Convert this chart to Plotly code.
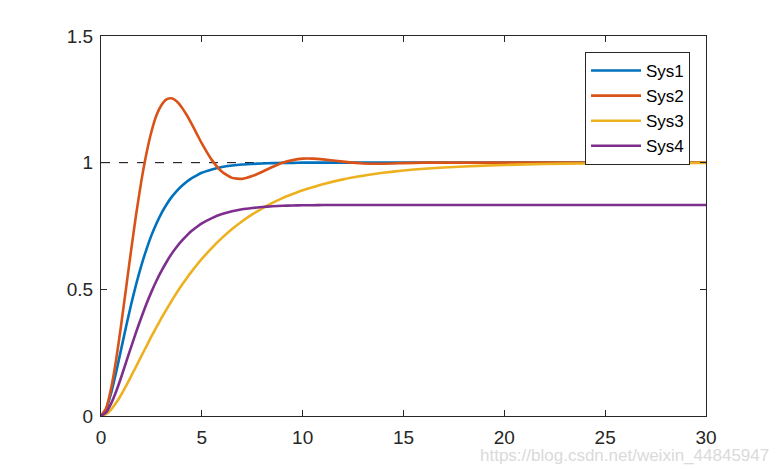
import plotly.graph_objects as go

t = [0, 0.25, 0.5, 0.75, 1, 1.25, 1.5, 1.75, 2, 2.25, 2.5, 2.75, 3, 3.25, 3.5, 3.75, 4, 4.25, 4.5, 4.75,
     5, 5.5, 6, 6.5, 7, 7.5, 8, 8.5, 9, 9.5, 10,
     10.5, 11, 12, 13, 14, 15, 16, 18, 20, 22, 24, 26, 28, 30]

sys1 = [0, 0.026, 0.090, 0.173, 0.264, 0.355, 0.442, 0.522, 0.594, 0.657, 0.713, 0.760, 0.801, 0.835,
        0.864, 0.888, 0.908, 0.925, 0.939, 0.950,
        0.960, 0.973, 0.983, 0.989, 0.993, 0.995, 0.997, 0.998, 0.999, 0.999, 1.0,
        1.0, 1.0, 1.0, 1.0, 1.0, 1.0, 1.0, 1.0, 1.0, 1.0, 1.0, 1.0, 1.0, 1.0]

sys2 = [0, 0.029, 0.108, 0.222, 0.360, 0.509, 0.658, 0.800, 0.927, 1.035, 1.122, 1.187, 1.228, 1.250,
        1.254, 1.242, 1.219, 1.188, 1.152, 1.114,
        1.076, 1.010, 0.964, 0.940, 0.936, 0.947, 0.964, 0.983, 0.9995, 1.010, 1.016,
        1.016, 1.013, 1.004, 0.997, 0.996, 0.998, 1.0, 1.0, 1.0, 1.0, 1.0, 1.0, 1.0, 1.0]

sys3 = [0, 0.007, 0.0255, 0.052, 0.084, 0.120, 0.158, 0.197, 0.236, 0.275, 0.314, 0.351, 0.387, 0.421,
        0.454, 0.486, 0.516, 0.544, 0.571, 0.596,
        0.620, 0.664, 0.703, 0.738, 0.769, 0.796, 0.820, 0.841, 0.860, 0.876, 0.891,
        0.903, 0.915, 0.934, 0.948, 0.960, 0.969, 0.976, 0.985, 0.991, 0.995, 0.997, 0.998, 0.9988, 0.999]

sys4 = [0, 0.014, 0.049, 0.097, 0.153, 0.214, 0.274, 0.333, 0.389, 0.442, 0.490, 0.534, 0.573, 0.608,
        0.640, 0.667, 0.691, 0.712, 0.731, 0.746,
        0.760, 0.781, 0.797, 0.808, 0.816, 0.821, 0.825, 0.828, 0.830, 0.831, 0.832,
        0.832, 0.833, 0.833, 0.833, 0.833, 0.833, 0.833, 0.833, 0.833, 0.833, 0.833, 0.833, 0.833, 0.833]

names = ["Sys1", "Sys2", "Sys3", "Sys4"]
colors = ["#0072BD", "#D95319", "#EDB120", "#7E2F8E"]

ref_t = [0, 30]
ref_y = [1, 1]

xticks = [0, 5, 10, 15, 20, 25, 30]
yticks = [0, 0.5, 1, 1.5]
ytick_text = ["0", "0.5", "1", "1.5"]

fig = go.Figure()
fig.add_trace(go.Scatter(x=ref_t, y=ref_y, mode="lines", showlegend=False,
                         line=dict(color="black", width=1, dash="dash"), hoverinfo="skip"))
for name, ys, c in zip(names, [sys1, sys2, sys3, sys4], colors):
    fig.add_trace(go.Scatter(x=t, y=ys, mode="lines", name=name,
                             line=dict(color=c, width=2.6, shape="spline", smoothing=0.5)))

axis_common = dict(showline=True, linecolor="#262626", linewidth=1, mirror="ticks",
                   ticks="inside", ticklen=6, tickcolor="#262626", showgrid=False,
                   zeroline=False, tickfont=dict(family="Liberation Sans, Arial", size=19, color="#262626"))

fig.update_layout(
    width=781, height=469,
    margin=dict(l=101, r=75, t=36, b=53),
    paper_bgcolor="white", plot_bgcolor="white",
    xaxis=dict(range=[0, 30], tickvals=xticks, ticklabelstandoff=4, **axis_common),
    yaxis=dict(range=[0, 1.5], tickvals=yticks, ticktext=ytick_text, ticklabelstandoff=3, **axis_common),
    legend=dict(x=0.9736, y=0.958, xanchor="right", yanchor="top",
                bgcolor="white", bordercolor="#262626", borderwidth=1,
                font=dict(family="Liberation Sans, Arial", size=17, color="black"),
                tracegroupgap=0, itemwidth=50),
    annotations=[dict(text="https://blog.csdn.net/weixin_44845947", xref="paper", yref="paper",
                      x=1.107, y=-0.104, xanchor="right", yanchor="middle", showarrow=False,
                      font=dict(family="Liberation Sans, Arial", size=17, color="#dadada"))],
)

fig.write_html("out.html")
